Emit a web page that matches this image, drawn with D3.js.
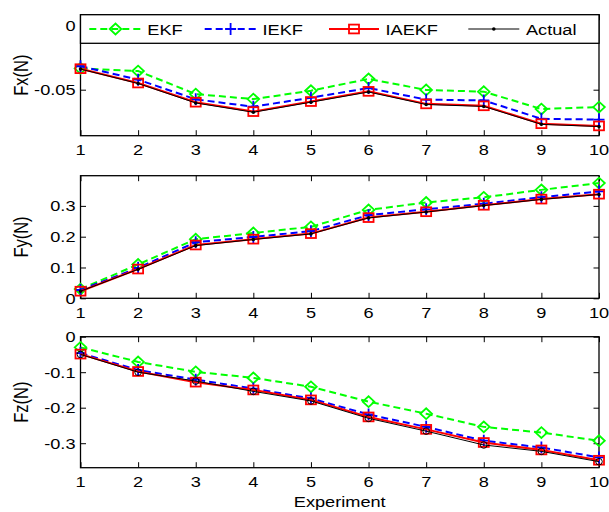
<!DOCTYPE html>
<html>
<head>
<meta charset="utf-8">
<script src="https://cdn.jsdelivr.net/npm/d3@7"></script>
<style>
  html, body { margin: 0; padding: 0; background: #fff; }
  svg { display: block; }
  text { font-family: "Liberation Sans", Arial, Helvetica, sans-serif; fill: #000; }
</style>
</head>
<body>
<script>
const experiments = [1, 2, 3, 4, 5, 6, 7, 8, 9, 10];
const seriesNames = ["EKF", "IEKF", "IAEKF", "Actual"];

const fxEKF    = [-0.0335, -0.0355, -0.0534, -0.0573, -0.0508, -0.0416, -0.0502, -0.0515, -0.0650, -0.0635];
const fxIEKF   = [-0.0318, -0.0422, -0.0575, -0.0632, -0.0562, -0.0487, -0.0577, -0.0583, -0.0726, -0.0732];
const fxIAEKF  = [-0.0337, -0.0448, -0.0597, -0.0670, -0.0592, -0.0513, -0.0610, -0.0625, -0.0764, -0.0781];
const fxActual = [-0.0340, -0.0452, -0.0603, -0.0675, -0.0597, -0.0518, -0.0615, -0.0630, -0.0769, -0.0786];

const fyEKF    = [0.030, 0.110, 0.192, 0.212, 0.232, 0.287, 0.311, 0.328, 0.352, 0.374];
const fyIEKF   = [0.027, 0.099, 0.182, 0.199, 0.218, 0.270, 0.289, 0.307, 0.328, 0.347];
const fyIAEKF  = [0.023, 0.095, 0.173, 0.192, 0.210, 0.262, 0.281, 0.302, 0.322, 0.338];
const fyActual = [0.023, 0.094, 0.171, 0.191, 0.209, 0.261, 0.280, 0.301, 0.321, 0.337];

const fzEKF    = [-0.030, -0.071, -0.099, -0.116, -0.141, -0.183, -0.217, -0.254, -0.270, -0.293];
const fzIEKF   = [-0.046, -0.094, -0.121, -0.146, -0.174, -0.219, -0.254, -0.293, -0.312, -0.340];
const fzIAEKF  = [-0.049, -0.098, -0.128, -0.150, -0.178, -0.226, -0.261, -0.298, -0.319, -0.348];
const fzActual = [-0.050, -0.100, -0.125, -0.154, -0.181, -0.230, -0.266, -0.305, -0.323, -0.352];

const fxTicks = [-0.05, 0];
const fyTicks = [0, 0.1, 0.2, 0.3];
const fzTicks = [-0.3, -0.2, -0.1, 0];
const fxTickLabels = ["-0.05", "0"];
const fyTickLabels = ["0", "0.1", "0.2", "0.3"];
const fzTickLabels = ["-0.3", "-0.2", "-0.1", "0"];
const yTitles = ["Fx(N)", "Fy(N)", "Fz(N)"];
const xTitle = "Experiment";

const W = 609, H = 512;
const SX = 1.18;      // horizontal glyph stretch of the reference
const FS = 15.4;

const svg = d3.select("body").append("svg").attr("width", W).attr("height", H);

const left = 80.5, right = 599;
const x = d3.scaleLinear().domain([1, 10]).range([left, right]);

const styles = {
  EKF:    {color: "#00ff00", width: 2, dash: "7,4", marker: "diamond"},
  IEKF:   {color: "#0000ff", width: 2, dash: "7,4", marker: "plus"},
  IAEKF:  {color: "#ff0000", width: 2, dash: null, marker: "square"},
  Actual: {color: "#000000", width: 1, dash: null, marker: "dot"}
};

const panels = [
  {top: 14.7, bottom: 135.7, domain: [-0.0857, 0.0082], ticks: fxTicks, labels: fxTickLabels, title: yTitles[0],
   data: {EKF: fxEKF, IEKF: fxIEKF, IAEKF: fxIAEKF, Actual: fxActual}, actualMarker: "dot", legend: true},
  {top: 175.7, bottom: 298.3, domain: [0, 0.398], ticks: fyTicks, labels: fyTickLabels, title: yTitles[1],
   data: {EKF: fyEKF, IEKF: fyIEKF, IAEKF: fyIAEKF, Actual: fyActual}, actualMarker: "dot", legend: false},
  {top: 336.7, bottom: 467.7, domain: [-0.369, 0], ticks: fzTicks, labels: fzTickLabels, title: yTitles[2],
   data: {EKF: fzEKF, IEKF: fzIEKF, IAEKF: fzIAEKF, Actual: fzActual}, actualMarker: "circle", legend: false}
];

function stretchedText(g, tx, ty, str, anchor, size, rot) {
  const t = g.append("text")
    .attr("transform", `translate(${tx},${ty}) scale(${SX},1)` + (rot ? ` rotate(${rot})` : ""))
    .attr("text-anchor", anchor)
    .style("font-size", (size || FS) + "px")
    .text(str);
  return t;
}

function drawMarker(g, type, cx, cy, color) {
  if (type === "diamond") {
    g.append("path").attr("d", `M${cx - 5.8},${cy} L${cx},${cy - 5.4} L${cx + 5.8},${cy} L${cx},${cy + 5.4} Z`)
      .attr("fill", "none").attr("stroke", color).attr("stroke-width", 1.8);
  } else if (type === "plus") {
    g.append("path").attr("d", `M${cx - 5.5},${cy} H${cx + 5.5} M${cx},${cy - 6} V${cy + 6}`)
      .attr("stroke", color).attr("stroke-width", 1.8);
  } else if (type === "square") {
    g.append("rect").attr("x", cx - 5).attr("y", cy - 4.4).attr("width", 10).attr("height", 8.8)
      .attr("fill", "none").attr("stroke", color).attr("stroke-width", 1.8);
  } else if (type === "dot") {
    g.append("circle").attr("cx", cx).attr("cy", cy).attr("r", 1.8).attr("fill", color);
  } else if (type === "circle") {
    g.append("circle").attr("cx", cx).attr("cy", cy).attr("r", 3.3)
      .attr("fill", "none").attr("stroke", color).attr("stroke-width", 1);
  }
}

panels.forEach((p, pi) => {
  const y = d3.scaleLinear().domain(p.domain).range([p.bottom, p.top]);
  const g = svg.append("g");

  // axes via d3 (inward ticks)
  const axL = d3.axisLeft(y).tickValues(p.ticks).tickSize(-5.5).tickFormat("");
  const axR = d3.axisRight(y).tickValues(p.ticks).tickSize(-5.5).tickFormat("");
  const axB = d3.axisBottom(x).tickValues(experiments).tickSize(-5.5).tickFormat("");
  const axT = d3.axisTop(x).tickValues(experiments).tickSize(-5.5).tickFormat("");
  [[axL, `translate(${left},0)`], [axR, `translate(${right},0)`],
   [axB, `translate(0,${p.bottom})`], [axT, `translate(0,${p.top})`]].forEach(([ax, tr]) => {
    const a = g.append("g").attr("transform", tr).call(ax);
    a.select(".domain").remove();
    a.selectAll("line").attr("stroke", "#000").attr("stroke-width", 1);
  });

  // box
  g.append("rect").attr("x", left).attr("y", p.top).attr("width", right - left).attr("height", p.bottom - p.top)
    .attr("fill", "none").attr("stroke", "#000").attr("stroke-width", 1.3);

  // tick labels
  p.ticks.forEach((t, i) => {
    stretchedText(g, left - 5, y(t) + 5.5, p.labels[i], "end");
  });
  experiments.forEach(e => {
    stretchedText(g, x(e), p.bottom + 19.5, String(e), "middle");
  });

  // y title
  stretchedText(g, 27.5, (p.top + p.bottom) / 2, p.title, "middle", 16.5, -90);

  // series
  seriesNames.forEach(name => {
    const st = styles[name];
    const vals = p.data[name];
    const line = d3.line().x((d, i) => x(experiments[i])).y(d => y(d));
    g.append("path").datum(vals).attr("d", line)
      .attr("fill", "none").attr("stroke", st.color).attr("stroke-width", st.width)
      .attr("stroke-dasharray", st.dash);
    const mk = name === "Actual" ? p.actualMarker : st.marker;
    vals.forEach((v, i) => drawMarker(g, mk, x(experiments[i]), y(v), st.color));
  });

  if (p.legend) {
    const lg = svg.append("g");
    lg.append("rect").attr("x", left).attr("y", p.top).attr("width", right - left).attr("height", 43.3 - p.top)
      .attr("fill", "#fff").attr("stroke", "#000").attr("stroke-width", 1.3);
    const ly = 29;
    const entries = [
      {name: "EKF", x0: 89.3, x1: 141.7, tx: 147.3},
      {name: "IEKF", x0: 204.7, x1: 256.5, tx: 262.5},
      {name: "IAEKF", x0: 329, x1: 379, tx: 385.5},
      {name: "Actual", x0: 468.3, x1: 519.3, tx: 526}
    ];
    entries.forEach(en => {
      const st = styles[en.name];
      lg.append("line").attr("x1", en.x0).attr("x2", en.x1).attr("y1", ly).attr("y2", ly)
        .attr("stroke", st.color).attr("stroke-width", st.width).attr("stroke-dasharray", st.dash);
      drawMarker(lg, st.marker, (en.x0 + en.x1) / 2, ly, st.color);
      stretchedText(lg, en.tx, ly + 5.6, en.name, "start");
    });
  }
});

stretchedText(svg, (left + right) / 2, 507, xTitle, "middle");
</script>
</body>
</html>
